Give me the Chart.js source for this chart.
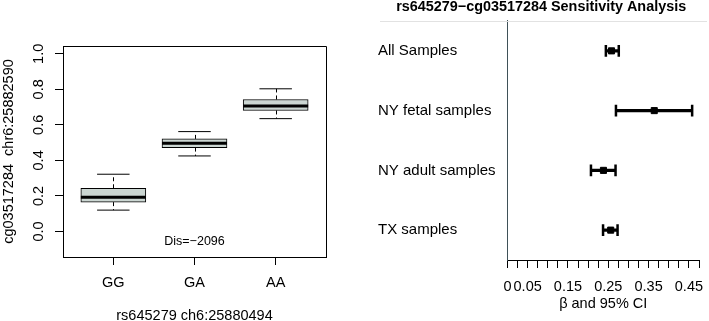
<!DOCTYPE html>
<html>
<head>
<meta charset="utf-8">
<script src="https://cdn.jsdelivr.net/npm/chart.js@4.4.1/dist/chart.umd.min.js"></script>
<style>
  html, body { margin: 0; padding: 0; background: #fff; overflow: hidden; }
  #wrap { position: relative; width: 709px; height: 321px; }
  .panel { position: absolute; top: 0; }
  #boxWrap { left: 0; width: 360px; height: 321px; }
  #forestWrap { left: 360px; width: 349px; height: 321px; }
</style>
</head>
<body>
<div id="wrap">
  <div class="panel" id="boxWrap"><canvas id="boxChart" width="360" height="321"></canvas></div>
  <div class="panel" id="forestWrap"><canvas id="forestChart" width="349" height="321"></canvas></div>
</div>
<script>
// left panel: methylation level by genotype
const genotypes = ['GG', 'GA', 'AA'];
const whiskerLow = [0.12, 0.425, 0.635];
const q1 = [0.165, 0.472, 0.681];
const medians = [0.193, 0.496, 0.706];
const q3 = [0.243, 0.521, 0.743];
const whiskerHigh = [0.322, 0.562, 0.803];
const yTicks = [0, 0.2, 0.4, 0.6, 0.8, 1.0];
const yTickLabels = ['0.0', '0.2', '0.4', '0.6', '0.8', '1.0'];
const yLimits = [-0.1, 1.0];
const distNote = 'Dis=\u22122096';
const distNoteAt = [2, -0.055];

// right panel: sensitivity analysis
const studies = ['All Samples', 'NY fetal samples', 'NY adult samples', 'TX samples'];
const beta = [0.258, 0.364, 0.238, 0.256];
const ciLow = [0.244, 0.269, 0.207, 0.237];
const ciHigh = [0.276, 0.458, 0.268, 0.273];
const betaTickLabels = [0, 0.05, 0.15, 0.25, 0.35, 0.45];

Chart.defaults.font.family = '"Liberation Sans", Arial, Helvetica, sans-serif';
Chart.defaults.color = '#000';

// R style axis limits: extend the range by 4% on both sides
const widen = (lo, hi) => [lo - (hi - lo) * 0.04, hi + (hi - lo) * 0.04];
const [yMin, yMax] = widen(yLimits[0], yLimits[1]);
const [xMin, xMax] = widen(0.5, genotypes.length + 0.5);

const boxExtras = {
  id: 'boxExtras',
  afterDraw(chart) {
    const {ctx, chartArea, scales: {x, y}} = chart;
    const seg = (x1, y1, x2, y2) => { ctx.beginPath(); ctx.moveTo(x1, y1); ctx.lineTo(x2, y2); ctx.stroke(); };
    ctx.save();
    ctx.strokeStyle = '#000';
    genotypes.forEach((g, i) => {
      const pos = i + 1;
      const cx = Math.round(x.getPixelForValue(pos)) + 0.5;
      // dashed whiskers
      ctx.lineWidth = 1;
      ctx.setLineDash([4, 3]);
      seg(cx, y.getPixelForValue(q3[i]), cx, y.getPixelForValue(whiskerHigh[i]));
      seg(cx, y.getPixelForValue(q1[i]), cx, y.getPixelForValue(whiskerLow[i]));
      ctx.setLineDash([]);
      // staples
      const sl = x.getPixelForValue(pos - 0.2), sr = x.getPixelForValue(pos + 0.2);
      seg(sl, y.getPixelForValue(whiskerHigh[i]), sr, y.getPixelForValue(whiskerHigh[i]));
      seg(sl, y.getPixelForValue(whiskerLow[i]), sr, y.getPixelForValue(whiskerLow[i]));
      // median
      ctx.lineWidth = 3;
      seg(x.getPixelForValue(pos - 0.4), y.getPixelForValue(medians[i]),
          x.getPixelForValue(pos + 0.4), y.getPixelForValue(medians[i]));
    });
    // plot frame
    const l = Math.round(chartArea.left) + 0.5, t = Math.round(chartArea.top) + 0.5;
    const r = Math.round(chartArea.right) + 0.5, b = Math.round(chartArea.bottom) + 0.5;
    ctx.lineWidth = 1;
    ctx.beginPath();
    ctx.moveTo(l, t); ctx.lineTo(r, t); ctx.lineTo(r, b); ctx.lineTo(l, b); ctx.closePath();
    ctx.stroke();
    // note inside the plot
    ctx.fillStyle = '#000';
    ctx.font = '12.5px "Liberation Sans", Arial, sans-serif';
    ctx.textAlign = 'center';
    ctx.textBaseline = 'middle';
    ctx.fillText(distNote, x.getPixelForValue(distNoteAt[0]), y.getPixelForValue(distNoteAt[1]));
    // y tick labels, rotated like base R
    ctx.font = '14.5px "Liberation Sans", Arial, sans-serif';
    yTicks.forEach((v, i) => {
      ctx.save();
      ctx.translate(chartArea.left - 24, y.getPixelForValue(v));
      ctx.rotate(-Math.PI / 2);
      ctx.fillText(yTickLabels[i], 0, 0);
      ctx.restore();
    });
    ctx.restore();
  }
};

new Chart(document.getElementById('boxChart'), {
  type: 'bar',
  data: {
    datasets: [{
      data: genotypes.map((g, i) => ({x: i + 1, y: [q1[i], q3[i]]})),
      backgroundColor: '#cbd6d2',
      borderColor: '#000',
      borderWidth: 1,
      borderSkipped: false,
      barThickness: 65
    }]
  },
  options: {
    responsive: false,
    animation: false,
    events: [],
    layout: {padding: {left: 0, top: 46, right: 34, bottom: 0}},
    plugins: {legend: {display: false}, tooltip: {enabled: false}},
    scales: {
      x: {
        type: 'linear',
        offset: false,
        min: xMin,
        max: xMax,
        afterBuildTicks: s => { s.ticks = genotypes.map((g, i) => ({value: i + 1})); },
        afterFit: s => { s.height = 64; },
        ticks: {
          autoSkip: false, maxRotation: 0, padding: 9,
          font: {size: 14.5},
          callback: v => genotypes[Math.round(v) - 1]
        },
        grid: {offset: false, drawOnChartArea: false, drawTicks: true, tickLength: 8, color: '#000'},
        border: {display: true, color: '#000'},
        title: {display: true, text: 'rs645279 ch6:25880494', font: {size: 14.5}, padding: {top: 0, bottom: -4}}
      },
      y: {
        min: yMin,
        max: yMax,
        afterBuildTicks: s => { s.ticks = yTicks.map(v => ({value: v})); },
        afterFit: s => { s.width = 63; },
        ticks: {display: false},
        grid: {drawOnChartArea: false, drawTicks: true, tickLength: 8, color: '#000'},
        border: {display: true, color: '#000'},
        title: {display: true, text: 'cg03517284  chr6:25882590', font: {size: 14.5}, padding: {top: 0, bottom: 0}}
      }
    }
  },
  plugins: [boxExtras]
});

// forest plot
const headerLine = {
  id: 'headerLine',
  beforeDatasetsDraw(chart) {
    const {ctx, chartArea} = chart;
    ctx.save();
    ctx.strokeStyle = '#e2e2e2';
    ctx.lineWidth = 1;
    ctx.beginPath();
    ctx.moveTo(20, Math.round(chartArea.top) + 0.5);
    ctx.lineTo(chart.width - 2, Math.round(chartArea.top) + 0.5);
    ctx.stroke();
    ctx.restore();
  }
};

const betaTicks = [];
for (let v = 0; v <= 0.4751; v += 0.025) betaTicks.push(+v.toFixed(3));

new Chart(document.getElementById('forestChart'), {
  data: {
    labels: studies,
    datasets: [
      {
        type: 'scatter',
        order: 0,
        data: studies.map((s, i) => ({x: beta[i], y: s})),
        pointStyle: 'rect',
        pointRadius: 4.3,
        backgroundColor: '#000',
        borderColor: '#000',
        borderWidth: 1
      },
      {
        type: 'scatter',
        order: 1,
        data: studies.flatMap((s, i) => [{x: ciLow[i], y: s}, {x: ciHigh[i], y: s}]),
        pointStyle: 'line',
        rotation: 90,
        pointRadius: 5.8,
        borderColor: '#000',
        borderWidth: 2.5
      },
      {
        type: 'bar',
        order: 2,
        indexAxis: 'y',
        data: studies.map((s, i) => [ciLow[i], ciHigh[i]]),
        backgroundColor: '#000',
        borderWidth: 0,
        barThickness: 2.5
      }
    ]
  },
  options: {
    indexAxis: 'y',
    responsive: false,
    animation: false,
    events: [],
    layout: {padding: {left: 18, top: 0, right: 4.7, bottom: 0}},
    plugins: {
      legend: {display: false},
      tooltip: {enabled: false},
      title: {
        display: true,
        text: 'rs645279\u2212cg03517284 Sensitivity Analysis',
        font: {size: 14.4, weight: 'bold'},
        color: '#000',
        padding: {top: -1.5, bottom: 5.2}
      }
    },
    scales: {
      x: {
        type: 'linear',
        position: 'bottom',
        min: 0,
        max: 0.475,
        afterBuildTicks: s => { s.ticks = betaTicks.map(v => ({value: v})); },
        afterFit: s => { s.height = 61; },
        ticks: {
          autoSkip: false, maxRotation: 0, padding: 10,
          font: {size: 14.5},
          callback: v => betaTickLabels.some(t => Math.abs(t - v) < 1e-6) ? String(+v.toFixed(2)) : ''
        },
        grid: {drawOnChartArea: false, drawTicks: true, tickLength: 8, color: '#000'},
        border: {display: true, color: '#000'},
        title: {display: true, text: '\u03b2 and 95% CI', font: {size: 14.5}, padding: {top: 0, bottom: 8.3}}
      },
      y: {
        type: 'category',
        offset: true,
        afterFit: s => { s.width = 129.5; },
        ticks: {crossAlign: 'far', font: {size: 15}, padding: 0},
        grid: {display: false},
        border: {display: true, color: '#3f5158'}
      }
    }
  },
  plugins: [headerLine]
});
</script>
</body>
</html>
